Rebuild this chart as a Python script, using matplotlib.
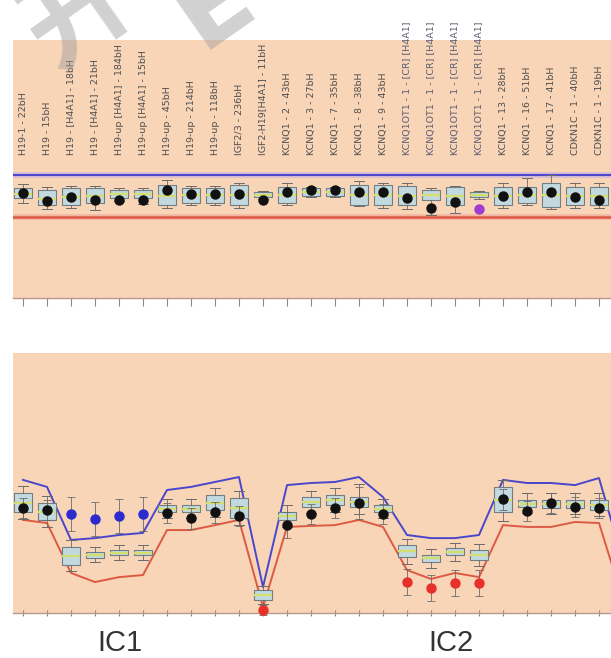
import matplotlib
matplotlib.use("Agg")
import matplotlib.pyplot as plt
import matplotlib.transforms as mtransforms
import numpy as np

# ---------------- data ----------------
labels = [
    "H19-1 - 22bH", "H19 - 15bH", "H19 - [H4A1] - 18bH", "H19 - [H4A1] - 21bH",
    "H19-up [H4A1] - 184bH", "H19-up [H4A1] - 15bH", "H19-up - 45bH", "H19-up - 214bH",
    "H19-up - 118bH", "IGF2/3 - 236bH", "IGF2-H19[H4A1] - 11bH", "KCNQ1 - 2 - 43bH",
    "KCNQ1 - 3 - 27bH", "KCNQ1 - 7 - 35bH", "KCNQ1 - 8 - 38bH", "KCNQ1 - 9 - 43bH",
    "KCNQ1OT1 - 1 - [CR] [H4A1]", "KCNQ1OT1 - 1 - [CR] [H4A1]", "KCNQ1OT1 - 1 - [CR] [H4A1]",
    "KCNQ1OT1 - 1 - [CR] [H4A1]", "KCNQ1 - 13 - 28bH", "KCNQ1 - 16 - 51bH",
    "KCNQ1 - 17 - 41bH", "CDKN1C - 1 - 40bH", "CDKN1C - 1 - 19bH",
]
group_labels = ["IC1", "IC2"]

# top panel (reference-like, flat limits)
top_upper = 47.5
top_lower = 31.5
top_dot = [40.7, 37.6, 39.1, 38.0, 38.0, 38.0, 41.9, 40.3, 40.3, 40.3, 38.0, 41.1, 41.9,
           41.9, 41.1, 41.1, 38.8, 34.9, 37.2, 34.5, 39.5, 41.1, 41.1, 39.1, 38.0]
top_dot_kind = ["n"] * 19 + ["p"] + ["n"] * 5
top_q1 = [38.8, 36.0, 36.0, 36.8, 38.8, 38.8, 36.0, 36.8, 36.8, 36.0, 39.1, 36.8, 39.5,
          39.5, 36.0, 36.0, 36.0, 38.0, 36.0, 39.1, 36.0, 36.8, 35.3, 36.0, 36.0]
top_q3 = [42.6, 41.9, 42.6, 42.6, 41.9, 41.9, 43.8, 42.6, 42.6, 43.8, 41.1, 43.0, 42.6,
          42.6, 43.8, 43.8, 43.4, 41.9, 43.0, 41.1, 43.0, 43.0, 44.6, 43.0, 43.0]
top_med = [40.5, 38.5, 39.0, 39.5, 40.3, 40.3, 39.5, 39.8, 39.8, 40.0, 40.1, 40.0, 41.0,
           41.0, 40.0, 40.0, 39.5, 40.0, 39.5, 40.1, 39.5, 40.0, 40.0, 39.5, 39.5]
top_whislo = [37.0, 34.5, 35.0, 34.0, 37.5, 36.5, 35.0, 36.0, 36.0, 35.0, 38.5, 36.0, 39.0,
              39.0, 35.5, 35.0, 34.5, 32.2, 32.9, 38.5, 35.0, 36.0, 34.5, 35.0, 35.0]
top_whishi = [44.0, 43.0, 43.5, 43.5, 42.5, 42.5, 45.7, 43.5, 43.5, 44.5, 41.5, 44.6, 43.0,
              43.0, 45.3, 44.5, 44.5, 42.5, 43.5, 41.5, 44.5, 46.5, 47.7, 44.5, 44.5]

# bottom panel (samples)
bot_upper = [51.2, 48.5, 28.1, 28.8, 30.0, 30.8, 47.3, 48.5, 50.4, 52.3, 10.0, 49.2, 50.0,
             50.4, 52.3, 44.6, 30.0, 28.8, 28.8, 30.0, 51.2, 50.0, 50.0, 49.2, 51.9, 20.0]
bot_lower = [35.8, 34.6, 15.4, 11.9, 13.8, 14.6, 31.9, 31.9, 33.8, 35.8, 2.3, 33.1, 33.5,
             33.8, 35.8, 33.1, 16.5, 13.1, 15.4, 13.8, 33.8, 33.1, 33.1, 35.0, 34.6, 5.0]
bot_dot = [40.4, 39.6, 38.1, 36.2, 37.3, 38.1, 38.5, 36.5, 38.8, 37.3, 1.2, 33.8, 38.1,
           40.4, 42.3, 38.1, 11.9, 9.6, 11.5, 11.5, 43.8, 39.2, 42.3, 40.8, 40.4]
bot_dot_kind = ["n", "n", "h", "h", "h", "h", "n", "n", "n", "n", "l", "n", "n",
                "n", "n", "n", "l", "l", "l", "l", "n", "n", "n", "n", "n"]
bot_dot_err = [4, 4, 6.5, 6.5, 6.5, 6.5, 4, 4, 4, 4, 2, 5, 4,
               4, 6, 4, 5, 5, 5, 5, 4, 4, 4, 4, 4]
bot_q1 = [38.8, 35.8, 18.5, 21.2, 22.3, 22.3, 38.8, 38.8, 39.6, 36.5, 5.0, 35.8, 40.8,
          41.5, 40.8, 38.8, 21.5, 19.6, 22.3, 20.4, 38.8, 40.8, 40.4, 40.4, 39.6]
bot_q3 = [46.2, 42.3, 25.4, 23.5, 24.2, 24.2, 41.5, 41.5, 45.4, 44.2, 8.8, 38.8, 44.6,
          45.4, 44.6, 41.5, 26.2, 22.3, 25.0, 24.2, 48.5, 43.5, 43.5, 43.5, 43.5]
bot_med = [42.5, 39.0, 22.0, 22.3, 23.2, 23.2, 40.1, 40.1, 42.5, 40.5, 6.9, 37.3, 42.7,
           43.4, 42.7, 40.1, 23.8, 21.0, 23.6, 22.3, 43.6, 42.1, 42.0, 42.0, 41.5]
bot_whislo = [36.0, 33.0, 16.0, 19.5, 20.5, 20.5, 36.5, 36.5, 37.0, 34.0, 3.5, 33.0, 38.5,
              39.0, 38.0, 36.5, 19.0, 17.5, 20.0, 18.0, 35.5, 38.5, 38.0, 38.0, 37.5]
bot_whishi = [49.0, 45.0, 28.0, 25.5, 26.0, 26.0, 44.0, 44.0, 48.0, 47.0, 10.5, 41.5, 47.0,
              48.0, 49.5, 44.0, 28.5, 24.5, 27.0, 26.5, 51.0, 46.0, 46.0, 46.0, 46.0]

# ---------------- style ----------------
PEACH = "#f9d5b7"
BOX_FACE = "#c2d9df"
BOX_EDGE = "#6f7e84"
MED_COL = "#d4de6c"
BLUE_LINE = "#4a46cc"
RED_LINE = "#dc5a44"
DOT_COL = {"n": "#111111", "h": "#2b2bd0", "l": "#e8302a", "p": "#a03ad0"}

W, H = 611, 658
fig = plt.figure(figsize=(W / 100, H / 100), dpi=100)
fig.patch.set_facecolor("white")

def px_axes(left, top, right, bottom):
    return fig.add_axes([left / W, 1 - bottom / H, (right - left) / W, (bottom - top) / H])

n = len(labels)
x = np.arange(n)
XL = (-0.4167, 25.0)

def stats(q1, q3, med, lo, hi):
    return [dict(med=m, q1=a, q3=b, whislo=l, whishi=h, fliers=[])
            for a, b, m, l, h in zip(q1, q3, med, lo, hi)]

box_kw = dict(widths=0.74, patch_artist=True, showfliers=False, manage_ticks=False,
              boxprops=dict(facecolor=BOX_FACE, edgecolor=BOX_EDGE, linewidth=0.8),
              medianprops=dict(color=MED_COL, linewidth=1.6),
              whiskerprops=dict(color="#6a6a6a", linewidth=0.6),
              capprops=dict(color="#6a6a6a", linewidth=0.7), capwidths=0.45)

def style_axes(ax, ticklen):
    ax.set_facecolor(PEACH)
    ax.set_xlim(*XL)
    ax.set_ylim(0, 100)
    for s in ["top", "left", "right"]:
        ax.spines[s].set_visible(False)
    ax.spines["bottom"].set_color("#b89a8a")
    ax.spines["bottom"].set_linewidth(1.0)
    ax.set_yticks([])
    ax.set_xticks(x)
    ax.set_xticklabels([])
    ax.tick_params(axis="x", length=ticklen, width=0.8, color="#8a8a8a")

# ---- top panel ----
ax1 = px_axes(13, 40, 623, 298)
ax1.axhline(top_upper, color="#b9a6e6", linewidth=4, alpha=0.6, zorder=1)
ax1.axhline(top_upper, color=BLUE_LINE, linewidth=1.4, zorder=2)
ax1.axhline(top_lower, color="#f0a090", linewidth=4, alpha=0.6, zorder=1)
ax1.axhline(top_lower, color=RED_LINE, linewidth=1.8, zorder=2)
ax1.bxp(stats(top_q1, top_q3, top_med, top_whislo, top_whishi), positions=x, **box_kw)
for kind in ["n", "p"]:
    idx = [i for i, k in enumerate(top_dot_kind) if k == kind]
    ax1.plot(x[idx], [top_dot[i] for i in idx], "o", color=DOT_COL[kind], ms=6.5, zorder=5)
style_axes(ax1, 6)
lab_tr = mtransforms.blended_transform_factory(ax1.transData, fig.transFigure)
for i, lab in enumerate(labels):
    col = "#5c5c72" if "OT1" in lab else "#4e4e4e"
    ax1.text(x[i], 1 - 155 / H, lab, rotation=90, ha="center", va="bottom", fontsize=6.8,
             color=col, family="DejaVu Sans", transform=lab_tr, clip_on=False)

# ---- bottom panel ----
ax2 = px_axes(13, 353, 623, 613)
xl = np.arange(len(bot_upper))
ax2.plot(xl, bot_upper, color=BLUE_LINE, linewidth=1.4, zorder=2, clip_on=False)
ax2.plot(xl, bot_lower, color=RED_LINE, linewidth=1.4, zorder=2, clip_on=False)
ax2.bxp(stats(bot_q1, bot_q3, bot_med, bot_whislo, bot_whishi), positions=x, **box_kw)
for kind in ["n", "h", "l"]:
    idx = [i for i, k in enumerate(bot_dot_kind) if k == kind]
    ax2.errorbar(x[idx], [bot_dot[i] for i in idx], yerr=[bot_dot_err[i] for i in idx],
                 fmt="o", color=DOT_COL[kind], ms=6.5, ecolor="#6a6a6a",
                 elinewidth=0.6, capsize=3, capthick=0.6, zorder=5, clip_on=False)
style_axes(ax2, 4)
ax2.tick_params(axis="x", direction="inout", length=4)

fig.text(120 / W, 1 - 657 / H, group_labels[0], ha="center", va="bottom",
         fontsize=21, family="Liberation Sans", color="#333333")
fig.text(451 / W, 1 - 657 / H, group_labels[1], ha="center", va="bottom",
         fontsize=21, family="Liberation Sans", color="#333333")

# faint watermark
fig.text(0.13, 0.985, "开", rotation=35, ha="center", va="center", fontsize=80,
         family=["Noto Sans CJK SC", "DejaVu Sans"], fontweight="bold",
         color="#9a9a9a", alpha=0.45)
fig.text(0.35, 0.99, "E", rotation=35, ha="center", va="center", fontsize=75,
         family="DejaVu Sans", fontweight="bold", color="#9a9a9a", alpha=0.45)

fig.savefig("out.png", dpi=100)
